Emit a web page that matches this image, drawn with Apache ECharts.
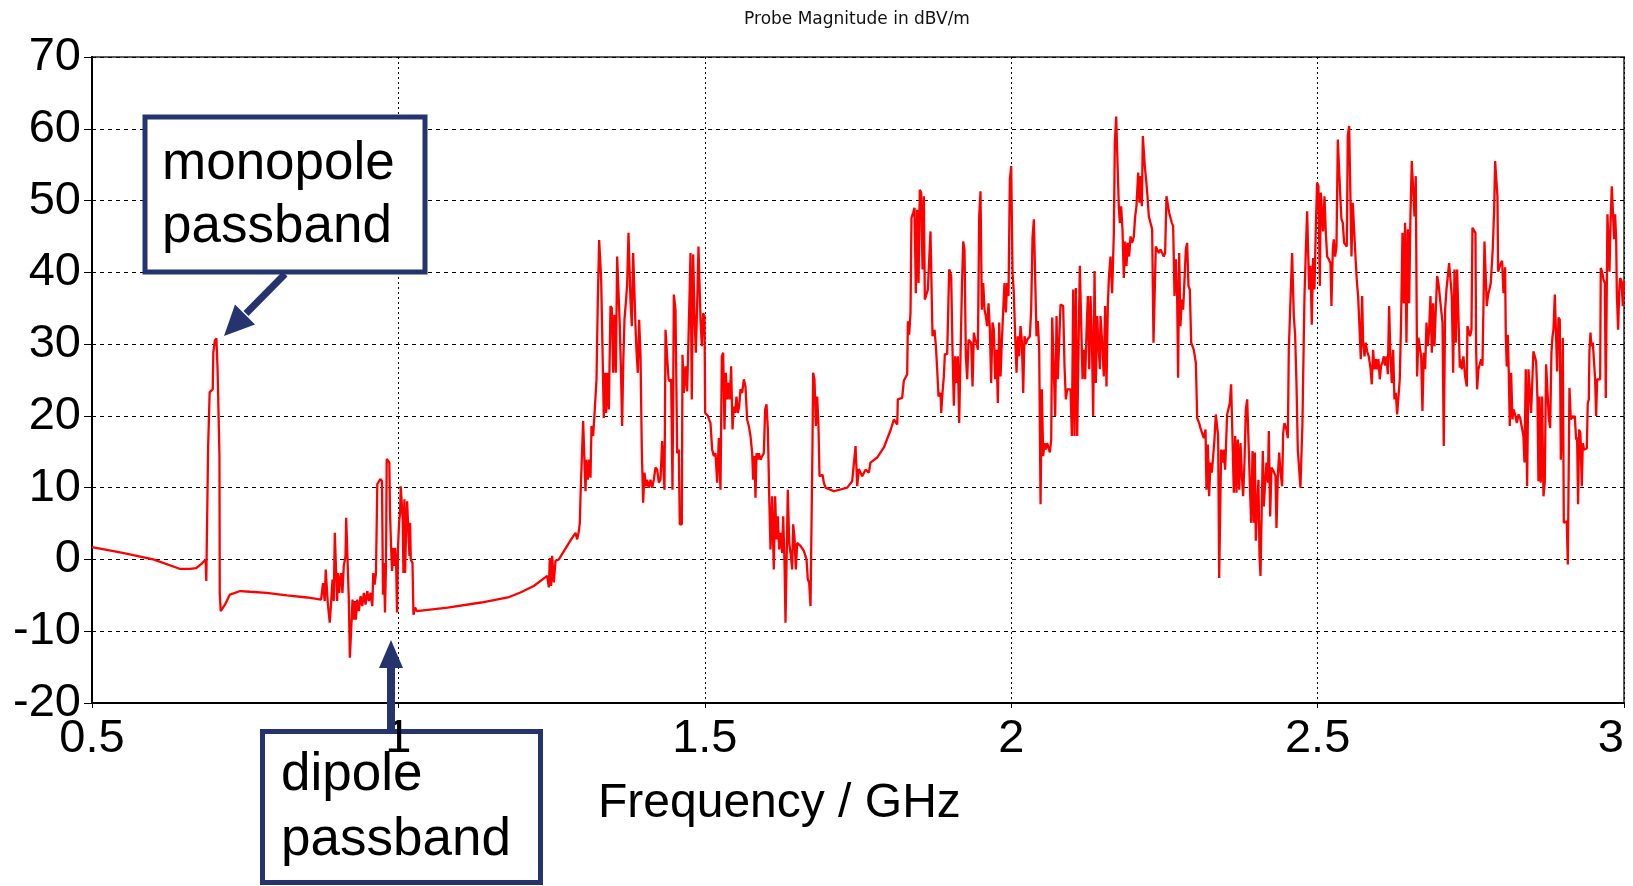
<!DOCTYPE html>
<html>
<head>
<meta charset="utf-8">
<script src="https://cdn.jsdelivr.net/npm/echarts@6/dist/echarts.min.js"></script>
<style>
html,body{margin:0;padding:0;background:#fff;}
#chart{width:1633px;height:886px;}
</style>
</head>
<body>
<div id="chart"></div>
<script>
// ---- Data: [frequency in GHz, probe magnitude in dBV/m] ----
const chartTitle = 'Probe Magnitude in dBV/m';
const xAxisTitle = 'Frequency / GHz';
const xTicks = [0.5, 1, 1.5, 2, 2.5, 3];
const yTicks = [-20, -10, 0, 10, 20, 30, 40, 50, 60, 70];

// 0.5 - 1.25 GHz : monopole and dipole passbands
const bandLow = [[0.500,1.7],[0.550,0.9],[0.600,0.0],[0.643,-1.3],[0.660,-1.3],[0.670,-1.2],[0.680,-0.5],[0.6855,0.0],[0.6865,-3.0],[0.6885,-3.0],[0.6895,15.6],[0.692,23.3],[0.697,23.7],[0.698,28.8],[0.7005,30.5],[0.703,30.8],[0.705,26.3],[0.708,14.4],[0.7085,-4.65],[0.710,-7.2],[0.713,-7.2],[0.717,-6.3],[0.725,-4.9],[0.742,-4.4],[0.758,-4.5],[0.785,-4.65],[0.818,-5.0],[0.851,-5.3],[0.8738,-5.6],[0.8770,-3.3],[0.8798,-5.8],[0.8814,-1.4],[0.8836,-1.6],[0.8847,-6.0],[0.8863,-7.4],[0.8880,-8.8],[0.8902,-6.0],[0.8924,-2.8],[0.8945,-5.8],[0.8962,3.7],[0.8989,3.5],[0.9000,-5.8],[0.9016,-1.9],[0.9033,-4.65],[0.9044,-3.3],[0.9066,-1.9],[0.9087,-4.65],[0.9109,-0.9],[0.9137,0.5],[0.9148,5.8],[0.9180,5.6],[0.9191,-5.6],[0.9208,-13.7],[0.9230,-13.7],[0.9240,-7.9],[0.9251,-5.6],[0.9273,-8.4],[0.9290,-5.8],[0.9306,-8.4],[0.9328,-5.6],[0.9355,-7.2],[0.9383,-5.1],[0.9410,-6.5],[0.9437,-4.65],[0.9464,-6.3],[0.9492,-4.4],[0.9519,-5.8],[0.9546,-4.65],[0.9574,-6.5],[0.9590,-1.9],[0.9612,-3.5],[0.9634,-1.9],[0.9656,10.5],[0.9683,10.9],[0.9710,11.2],[0.9732,10.9],[0.9749,-4.9],[0.9765,-0.5],[0.9781,-7.4],[0.9798,-0.5],[0.9809,14.0],[0.9831,14.0],[0.9852,13.5],[0.9863,6.5],[0.9880,1.9],[0.9896,-1.6],[0.9913,1.6],[0.9929,-0.9],[0.9945,1.6],[0.9962,0],[0.9978,-7.4],[0.9995,1.9],[1.0011,5.1],[1.0027,6.5],[1.0038,10.2],[1.0055,10.2],[1.0071,5.6],[1.0082,-1.9],[1.0098,8.4],[1.0109,-1.9],[1.0126,4.2],[1.0142,8.1],[1.0164,8.1],[1.0180,0.5],[1.0191,5.1],[1.0202,0],[1.0230,-0.5],[1.0246,-7.7],[1.0257,-7.9],[1.0273,-6.7],[1.0301,-7.2],[1.0803,-6.7],[1.1350,-6.0],[1.1787,-5.3],[1.1992,-4.6],[1.2210,-3.7],[1.2428,-2.3]];

// 1.25 - 1.83 GHz
const bandMidLow = [[1.2455,-3.9],[1.2471,0.2],[1.2493,-3.7],[1.2509,0.5],[1.2536,-3.2],[1.2564,-0.2],[1.2618,0],[1.2754,1.9],[1.2835,3.0],[1.2890,3.7],[1.2917,2.8],[1.2944,3.9],[1.2961,5.1],[1.2971,8.6],[1.2999,8.6],[1.3015,19.3],[1.3037,19.3],[1.3053,9.5],[1.3069,13.9],[1.3091,11.1],[1.3113,13.9],[1.3135,11.4],[1.3151,18.6],[1.3178,17.2],[1.3205,20.9],[1.3233,25.1],[1.3254,36.0],[1.3276,44.5],[1.3298,44.5],[1.3309,39.0],[1.3330,38.8],[1.3352,19.7],[1.3369,26.0],[1.3390,20.4],[1.3407,26.0],[1.3434,20.9],[1.3461,35.3],[1.3483,35.0],[1.3505,26.0],[1.3526,34.1],[1.3548,26.0],[1.3570,42.2],[1.3597,42.2],[1.3613,32.5],[1.3635,25.1],[1.3651,18.6],[1.3668,26.9],[1.3689,33.4],[1.3711,35.7],[1.3733,38.3],[1.3755,45.5],[1.3777,45.5],[1.3787,36.2],[1.3809,32.5],[1.3831,42.7],[1.3853,42.9],[1.3869,32.5],[1.3885,29.2],[1.3907,26.0],[1.3929,33.4],[1.3951,28.3],[1.3972,15.3],[1.3994,7.9],[1.4016,12.1],[1.4038,10.2],[1.4059,11.1],[1.4087,10.0],[1.4114,11.1],[1.4141,10.0],[1.4168,11.1],[1.4195,12.8],[1.4223,12.5],[1.4250,10.7],[1.4277,11.1],[1.4304,16.5],[1.4331,16.5],[1.4342,9.7],[1.4359,32.0],[1.4386,32.0],[1.4408,25.1],[1.4429,24.8],[1.4451,25.1],[1.4473,9.7],[1.4495,36.9],[1.4522,34.8],[1.4549,14.8],[1.4576,15.3],[1.4592,4.9],[1.4625,4.9],[1.4636,28.5],[1.4658,23.2],[1.4685,26.9],[1.4712,23.4],[1.4739,32.5],[1.4767,42.7],[1.4788,22.3],[1.4810,42.5],[1.4832,33.9],[1.4854,28.8],[1.4875,35.3],[1.4897,43.6],[1.4919,43.6],[1.4930,33.4],[1.4952,29.7],[1.4973,34.3],[1.4995,33.9],[1.5006,20.4],[1.5049,20.0],[1.5093,19.0],[1.5120,15.3],[1.5147,14.4],[1.5175,14.8],[1.5202,10.7],[1.5229,16.9],[1.5256,9.7],[1.5278,28.3],[1.5300,28.8],[1.5321,18.1],[1.5343,26.0],[1.5365,22.3],[1.5387,24.6],[1.5408,22.3],[1.5430,26.9],[1.5452,18.1],[1.5474,21.3],[1.5495,20.4],[1.5517,22.7],[1.5539,20.4],[1.5561,21.3],[1.5582,23.7],[1.5610,23.2],[1.5637,25.1],[1.5664,24.1],[1.5691,19.5],[1.5718,18.6],[1.5746,17.2],[1.5773,14.8],[1.5789,11.1],[1.5811,14.4],[1.5827,8.6],[1.5844,14.8],[1.5865,13.9],[1.5882,14.8],[1.5909,13.9],[1.5936,14.4],[1.5963,14.8],[1.5985,20.9],[1.6007,21.6],[1.6029,18.1],[1.6050,9.3],[1.6072,1.4],[1.6099,8.8],[1.6126,-1.4],[1.6148,8.8],[1.6170,2.8],[1.6192,6.0],[1.6213,1.4],[1.6235,3.7],[1.6262,0.9],[1.6279,6.0],[1.6301,-0.5],[1.6317,-8.8],[1.6344,-8.8],[1.6355,9.7],[1.6377,2.3],[1.6399,0.9],[1.6426,-1.4],[1.6442,4.9],[1.6464,3.0],[1.6486,-1.4],[1.6507,2.3],[1.6562,1.9],[1.6616,1.2],[1.6660,0],[1.6681,-2.8],[1.6703,-3.2],[1.6725,-6.5],[1.6741,4.4],[1.6757,15.8],[1.6768,26.0],[1.6790,25.1],[1.6812,18.6],[1.6834,22.7],[1.6855,18.6],[1.6872,11.6],[1.6899,11.8],[1.6921,11.8],[1.6943,10.7],[1.6970,10.0],[1.7106,9.5],[1.7324,10.0],[1.7405,10.9],[1.7460,15.8],[1.7487,10.2],[1.7514,12.6],[1.7569,11.6],[1.7623,12.5],[1.7677,12.1],[1.7704,13.5],[1.7813,14.2],[1.7922,15.6],[1.8031,18.0],[1.8085,19.5],[1.8140,18.8],[1.8150,22.3],[1.8221,22.5],[1.8248,24.9],[1.8303,25.8]];

// 1.83 - 2.145 GHz
const bandMid = [[1.8314,33.2],[1.8335,31.3],[1.8357,34.4],[1.8373,47.6],[1.8400,48.3],[1.8422,49.0],[1.8444,37.1],[1.8466,48.7],[1.8488,38.5],[1.8509,51.5],[1.8531,51.1],[1.8553,40.4],[1.8575,50.6],[1.8591,36.2],[1.8618,36.2],[1.8640,37.6],[1.8662,41.8],[1.8683,45.7],[1.8705,45.5],[1.8716,31.1],[1.8749,32.0],[1.8771,29.7],[1.8792,26.5],[1.8814,22.7],[1.8847,23.2],[1.8858,20.4],[1.8879,23.2],[1.8901,25.5],[1.8917,28.6],[1.8955,28.6],[1.8988,40.4],[1.9021,39.5],[1.9042,29.2],[1.9064,21.4],[1.9086,28.3],[1.9108,24.6],[1.9129,28.3],[1.9151,19.0],[1.9173,28.3],[1.9195,37.6],[1.9217,44.3],[1.9238,43.2],[1.9260,28.3],[1.9282,25.1],[1.9304,30.6],[1.9325,30.6],[1.9347,30.2],[1.9369,24.1],[1.9391,31.6],[1.9412,30.6],[1.9434,30.2],[1.9456,29.2],[1.9478,47.8],[1.9499,51.3],[1.9521,34.8],[1.9543,38.5],[1.9565,34.8],[1.9586,33.9],[1.9608,32.5],[1.9630,35.7],[1.9652,32.0],[1.9673,24.6],[1.9695,33.0],[1.9717,32.0],[1.9739,25.1],[1.9760,29.2],[1.9782,21.8],[1.9804,33.0],[1.9826,25.5],[1.9847,30.2],[1.9869,34.6],[1.9891,38.5],[1.9913,34.4],[1.9934,38.5],[1.9956,36.7],[1.9978,52.9],[2.0000,54.8],[2.0022,39.9],[2.0043,37.1],[2.0065,31.1],[2.0087,26.0],[2.0109,31.1],[2.0130,28.3],[2.0152,32.5],[2.0174,30.4],[2.0196,23.2],[2.0217,31.1],[2.0239,30.0],[2.0261,30.6],[2.0305,31.1],[2.0326,34.8],[2.0348,44.8],[2.0370,47.4],[2.0392,47.4],[2.0413,31.1],[2.0435,33.2],[2.0457,29.2],[2.0479,7.7],[2.0500,23.7],[2.0522,14.4],[2.0544,16.2],[2.0566,15.3],[2.0587,16.2],[2.0609,16.2],[2.0631,14.9],[2.0653,16.7],[2.0669,33.7],[2.0696,33.7],[2.0718,20.0],[2.0740,33.9],[2.0761,25.1],[2.0783,25.1],[2.0805,35.5],[2.0827,35.3],[2.0848,35.3],[2.0870,26.9],[2.0892,22.3],[2.0914,23.7],[2.0941,23.9],[2.0968,23.7],[2.0990,17.2],[2.1012,37.6],[2.1033,17.2],[2.1055,37.8],[2.1077,17.2],[2.1099,29.7],[2.1120,40.9],[2.1142,40.9],[2.1164,25.1],[2.1186,29.2],[2.1207,25.1],[2.1229,31.6],[2.1251,36.7],[2.1273,26.5],[2.1294,36.7],[2.1316,31.1],[2.1338,20.0],[2.1360,40.2],[2.1381,24.6],[2.1403,33.9],[2.1425,29.7],[2.1447,26.5]];

// 2.145 - 2.44 GHz
const bandMidHigh = [[2.1457,33.9],[2.1484,30.2],[2.1511,25.5],[2.1533,35.3],[2.1555,24.1],[2.1577,35.5],[2.1593,39.0],[2.1620,42.2],[2.1647,37.1],[2.1675,45.5],[2.1691,58.0],[2.1713,61.7],[2.1740,61.7],[2.1756,49.2],[2.1773,46.9],[2.1794,49.2],[2.1816,46.0],[2.1838,39.2],[2.1860,44.3],[2.1881,40.9],[2.1903,44.1],[2.1925,42.2],[2.1947,45.0],[2.1974,44.1],[2.2001,45.0],[2.2023,47.8],[2.2044,49.2],[2.2072,53.9],[2.2093,49.7],[2.2110,53.4],[2.2132,49.2],[2.2148,59.0],[2.2164,59.0],[2.2180,54.8],[2.2202,52.9],[2.2224,50.6],[2.2246,47.8],[2.2273,46.9],[2.2300,46.0],[2.2322,30.2],[2.2344,30.2],[2.2360,43.6],[2.2382,43.2],[2.2409,42.7],[2.2436,43.2],[2.2463,43.4],[2.2490,42.2],[2.2512,42.7],[2.2534,50.6],[2.2556,50.8],[2.2578,48.3],[2.2599,48.3],[2.2621,46.9],[2.2643,46.4],[2.2665,36.7],[2.2686,41.8],[2.2708,36.7],[2.2724,25.3],[2.2741,42.7],[2.2762,32.5],[2.2784,36.2],[2.2806,34.8],[2.2828,34.8],[2.2850,43.2],[2.2871,44.1],[2.2893,38.1],[2.2915,37.6],[2.2937,30.2],[2.2980,29.2],[2.3013,27.4],[2.3035,19.7],[2.3067,19.0],[2.3089,18.3],[2.3116,18.1],[2.3143,16.9],[2.3171,18.1],[2.3187,9.7],[2.3209,16.0],[2.3230,8.8],[2.3252,13.5],[2.3274,12.1],[2.3296,14.4],[2.3317,16.7],[2.3339,20.2],[2.3361,20.0],[2.3377,17.2],[2.3394,-2.6],[2.3410,-2.6],[2.3426,15.3],[2.3448,13.5],[2.3470,15.3],[2.3491,12.5],[2.3513,12.5],[2.3524,20.2],[2.3551,20.2],[2.3568,21.8],[2.3589,24.4],[2.3611,24.4],[2.3633,9.3],[2.3655,17.2],[2.3676,9.3],[2.3698,16.7],[2.3720,9.7],[2.3742,16.2],[2.3764,11.6],[2.3785,8.8],[2.3807,13.5],[2.3829,20.9],[2.3851,22.3],[2.3872,22.3],[2.3894,10.7],[2.3916,5.1],[2.3938,15.1],[2.3959,5.1],[2.3976,14.9],[2.3992,2.6],[2.4014,7.9],[2.4035,11.1],[2.4052,0.5],[2.4068,-2.3],[2.4090,-2.1],[2.4106,15.1],[2.4123,7.4],[2.4144,10.7],[2.4166,13.5],[2.4188,10.7],[2.4204,17.9],[2.4226,6.0],[2.4248,12.8],[2.4269,12.5],[2.4291,12.1],[2.4313,11.6],[2.4329,4.4],[2.4351,11.6],[2.4373,14.9],[2.4395,12.1]];

// 2.44 - 2.73 GHz
const bandHigh = [[2.4421,10.2],[2.4438,17.6],[2.4459,19.0],[2.4492,18.1],[2.4514,16.9],[2.4530,29.2],[2.4557,29.2],[2.4584,42.7],[2.4612,33.9],[2.4633,31.3],[2.4655,24.6],[2.4677,15.3],[2.4699,15.3],[2.4720,10.0],[2.4737,10.0],[2.4753,19.0],[2.4775,31.1],[2.4786,36.7],[2.4807,42.7],[2.4829,48.5],[2.4845,48.5],[2.4862,37.6],[2.4884,40.9],[2.4905,32.7],[2.4927,42.0],[2.4949,37.6],[2.4971,46.2],[2.4992,52.5],[2.5014,52.0],[2.5036,38.1],[2.5052,51.1],[2.5074,51.1],[2.5090,45.7],[2.5112,50.6],[2.5134,45.5],[2.5156,42.2],[2.5183,41.8],[2.5210,41.3],[2.5226,35.3],[2.5248,43.2],[2.5264,44.6],[2.5286,42.2],[2.5308,43.6],[2.5330,58.5],[2.5351,58.3],[2.5373,50.1],[2.5389,47.4],[2.5411,46.9],[2.5433,44.1],[2.5455,44.1],[2.5476,43.6],[2.5493,59.0],[2.5515,60.4],[2.5536,60.4],[2.5553,42.2],[2.5574,49.7],[2.5602,49.5],[2.5618,42.2],[2.5640,38.8],[2.5661,36.7],[2.5683,32.5],[2.5705,27.9],[2.5727,36.7],[2.5743,30.2],[2.5765,28.3],[2.5786,30.2],[2.5808,29.0],[2.5835,28.3],[2.5863,26.7],[2.5884,24.4],[2.5906,29.2],[2.5928,26.5],[2.5950,27.9],[2.5971,26.5],[2.5993,27.9],[2.6015,25.1],[2.6037,27.0],[2.6058,27.4],[2.6080,28.3],[2.6102,27.0],[2.6124,28.3],[2.6146,25.8],[2.6167,35.3],[2.6189,28.3],[2.6211,24.6],[2.6233,29.2],[2.6254,22.3],[2.6276,23.2],[2.6298,20.2],[2.6320,20.0],[2.6341,25.1],[2.6363,33.4],[2.6385,45.5],[2.6407,35.7],[2.6428,46.9],[2.6450,30.2],[2.6472,46.0],[2.6494,35.7],[2.6515,47.8],[2.6537,55.5],[2.6559,55.5],[2.6581,47.8],[2.6602,53.4],[2.6624,25.5],[2.6646,30.9],[2.6668,30.9],[2.6690,28.3],[2.6711,20.7],[2.6733,28.8],[2.6755,26.5],[2.6777,33.0],[2.6798,29.7],[2.6820,32.0],[2.6842,36.7],[2.6864,28.8],[2.6885,35.7],[2.6907,29.7],[2.6929,34.8],[2.6951,39.5],[2.6972,38.5],[2.6994,38.5],[2.7016,34.8],[2.7038,33.0],[2.7059,15.8],[2.7081,34.8],[2.7103,37.6],[2.7125,37.6],[2.7146,41.3],[2.7168,41.3],[2.7190,36.7],[2.7212,26.0],[2.7234,40.4],[2.7255,30.2],[2.7277,40.4],[2.7299,40.4],[2.7321,26.7]];

// 2.73 - 3.0 GHz
const bandTop = [[2.7326,27.9],[2.7353,26.5],[2.7380,28.3],[2.7407,25.5],[2.7435,24.1],[2.7445,32.5],[2.7467,32.3],[2.7489,31.1],[2.7511,32.0],[2.7527,46.2],[2.7554,46.0],[2.7576,45.5],[2.7587,29.2],[2.7603,23.7],[2.7625,26.5],[2.7647,26.5],[2.7668,27.9],[2.7690,27.0],[2.7707,35.3],[2.7723,44.3],[2.7745,44.1],[2.7761,35.3],[2.7783,36.9],[2.7804,37.6],[2.7826,38.5],[2.7848,38.5],[2.7859,43.4],[2.7881,48.7],[2.7897,55.5],[2.7919,55.5],[2.7935,50.6],[2.7946,40.1],[2.7968,40.1],[2.7989,41.3],[2.8011,41.6],[2.8033,37.1],[2.8060,40.7],[2.8071,31.1],[2.8087,26.9],[2.8104,31.3],[2.8120,26.0],[2.8136,18.6],[2.8158,26.0],[2.8180,19.5],[2.8196,20.9],[2.8223,20.2],[2.8251,19.0],[2.8278,20.2],[2.8305,19.7],[2.8332,19.9],[2.8359,17.2],[2.8376,13.5],[2.8397,26.5],[2.8419,10.2],[2.8441,26.5],[2.8468,26.5],[2.8484,20.4],[2.8501,20.4],[2.8522,29.0],[2.8544,28.3],[2.8566,27.6],[2.8588,22.3],[2.8604,10.9],[2.8620,22.7],[2.8642,10.7],[2.8664,22.7],[2.8686,8.8],[2.8707,10.7],[2.8729,27.2],[2.8751,27.0],[2.8773,19.7],[2.8795,18.3],[2.8816,28.8],[2.8833,31.1],[2.8849,32.0],[2.8871,36.9],[2.8893,36.7],[2.8909,26.2],[2.8931,33.7],[2.8952,33.4],[2.8969,13.9],[2.8985,18.6],[2.9001,30.9],[2.9018,5.1],[2.9045,5.1],[2.9066,5.3],[2.9083,-0.7],[2.9099,-0.7],[2.9110,23.9],[2.9132,19.5],[2.9154,20.0],[2.9175,19.7],[2.9197,20.0],[2.9219,16.7],[2.9235,17.0],[2.9251,7.7],[2.9268,18.1],[2.9289,17.6],[2.9311,10.2],[2.9328,16.2],[2.9350,15.3],[2.9371,15.5],[2.9393,15.5],[2.9409,21.8],[2.9426,22.3],[2.9436,29.0],[2.9453,31.6],[2.9469,29.7],[2.9491,30.2],[2.9513,30.0],[2.9529,25.1],[2.9545,20.0],[2.9562,25.1],[2.9583,24.9],[2.9611,25.1],[2.9621,40.6],[2.9643,40.1],[2.9665,39.0],[2.9687,38.5],[2.9703,22.5],[2.9719,22.7],[2.9730,48.1],[2.9752,48.1],[2.9763,40.1],[2.9779,46.4],[2.9801,52.0],[2.9823,52.0],[2.9839,44.6],[2.9855,48.1],[2.9872,44.6],[2.9883,37.1],[2.9904,32.0],[2.9921,37.1],[2.9937,39.2],[2.9959,38.8],[2.9981,35.3],[3.0,38.8]];

const annotations = [
  { lines: ['monopole', 'passband'] },
  { lines: ['dipole', 'passband'] }
];

// ---- Chart ----
const probeSeries = [].concat(bandLow, bandMidLow, bandMid, bandMidHigh, bandHigh, bandTop);
const FONT = '"Liberation Sans", Arial, Helvetica, sans-serif';
const NAVY = '#25346E';

const chart = echarts.init(document.getElementById('chart'), null, { renderer: 'canvas' });

chart.setOption({
  animation: false,
  backgroundColor: '#ffffff',
  grid: {
    left: 92, top: 57, right: 9, bottom: 183,
    show: true, borderColor: '#5a5a5a', borderWidth: 2, backgroundColor: 'transparent'
  },
  xAxis: {
    type: 'value',
    min: xTicks[0], max: xTicks[xTicks.length - 1], interval: xTicks[1] - xTicks[0],
    axisLine: { show: true, onZero: false, lineStyle: { color: '#000', width: 2 } },
    axisTick: { show: true, length: 5, lineStyle: { color: '#000', width: 1 } },
    axisLabel: {
      color: '#000', fontSize: 47, fontFamily: FONT, margin: 13,
      showMinLabel: true, showMaxLabel: true, alignMaxLabel: 'right',
      formatter: function (v) { return String(v); }
    },
    splitLine: { show: true, lineStyle: { color: '#000', width: 1, type: [2, 3] } }
  },
  yAxis: {
    type: 'value',
    min: yTicks[0], max: yTicks[yTicks.length - 1], interval: yTicks[1] - yTicks[0],
    axisLine: { show: true, onZero: false, lineStyle: { color: '#000', width: 2 } },
    axisTick: { show: true, length: 8, lineStyle: { color: '#000', width: 1 } },
    axisLabel: { color: '#000', fontSize: 47, fontFamily: FONT, margin: 11 },
    splitLine: { show: true, lineStyle: { color: '#000', width: 1, type: [4, 4] } }
  },
  series: [{
    type: 'line',
    data: probeSeries,
    showSymbol: false,
    symbol: 'none',
    sampling: null,
    lineStyle: { color: '#ff0000', width: 2.3 },
    z: 3
  }],
  graphic: [
    { type: 'text', x: 857, y: 11, z: 10,
      style: { text: chartTitle, font: '17px "DejaVu Sans", Verdana, sans-serif', fill: '#111',
               textAlign: 'center', textVerticalAlign: 'top' } },
    { type: 'text', x: 598, y: 780, z: 10,
      style: { text: xAxisTitle, font: '48px ' + FONT, fill: '#000',
               textAlign: 'left', textVerticalAlign: 'top' } },

    // monopole annotation
    { type: 'rect', z: 100, shape: { x: 145, y: 117, width: 280, height: 155 },
      style: { fill: '#ffffff', stroke: NAVY, lineWidth: 5 } },
    { type: 'text', x: 162, y: 138, z: 101,
      style: { text: annotations[0].lines[0], font: '53px ' + FONT, fill: '#000',
               textAlign: 'left', textVerticalAlign: 'top' } },
    { type: 'text', x: 162, y: 201, z: 101,
      style: { text: annotations[0].lines[1], font: '53px ' + FONT, fill: '#000',
               textAlign: 'left', textVerticalAlign: 'top' } },
    { type: 'line', z: 100, shape: { x1: 285, y1: 274, x2: 246, y2: 313.5 },
      style: { stroke: NAVY, lineWidth: 7 } },
    { type: 'polygon', z: 100, shape: { points: [[224, 336], [255, 324.5], [235, 304.5]] },
      style: { fill: NAVY } },

    // dipole annotation
    { type: 'rect', z: -1, shape: { x: 262.5, y: 731.5, width: 278, height: 151 },
      style: { fill: '#ffffff', stroke: NAVY, lineWidth: 5 } },
    { type: 'text', x: 281, y: 749, z: 1,
      style: { text: annotations[1].lines[0], font: '53px ' + FONT, fill: '#000',
               textAlign: 'left', textVerticalAlign: 'top' } },
    { type: 'text', x: 281, y: 814, z: 1,
      style: { text: annotations[1].lines[1], font: '53px ' + FONT, fill: '#000',
               textAlign: 'left', textVerticalAlign: 'top' } },
    { type: 'line', z: 100, shape: { x1: 391, y1: 664, x2: 391, y2: 731 },
      style: { stroke: NAVY, lineWidth: 8 } },
    { type: 'polygon', z: 100, shape: { points: [[391, 640], [379, 668], [403, 668]] },
      style: { fill: NAVY } }
  ]
});
</script>
</body>
</html>
